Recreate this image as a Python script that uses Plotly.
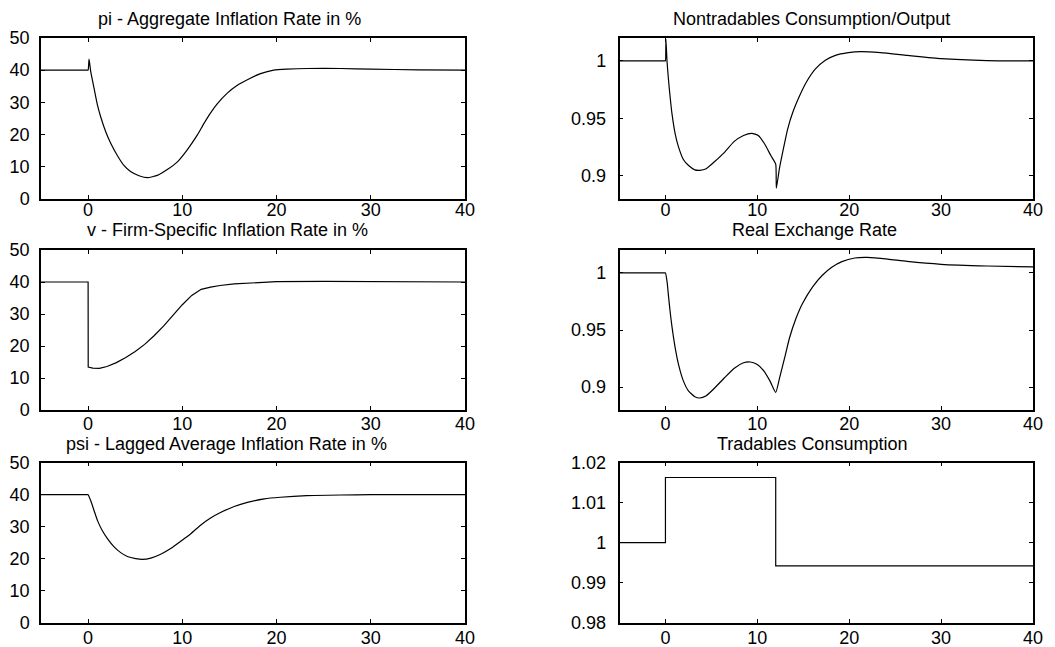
import plotly.graph_objects as go

# ---------------- data ----------------
t_pi = [-5, -0.1, 0, 0.1, 0.28, 0.64, 1.0, 1.34, 1.87, 2.4, 3.1, 3.8, 4.5, 5.4, 6.3, 7.35, 8.4, 9.5,
        10.5, 11.6, 12.3, 13.0, 13.7, 14.8, 15.8, 16.9, 18.3, 19.7, 21.1, 23.3, 26.8, 30, 35, 40]
pi = [40, 40, 40, 43.4, 39.5, 34.2, 29.0, 25.4, 20.8, 17.2, 13.4, 10.3, 8.4, 7.1, 6.5, 7.2, 9.0, 11.5,
      15.1, 19.8, 23.4, 26.7, 29.5, 32.9, 35.2, 37.0, 38.9, 40.0, 40.3, 40.5, 40.5, 40.3, 40.1, 40.0]

t_v = [-5, 0, 0.01, 0.5, 1.2, 2, 3, 4, 5, 6, 7, 8, 9, 10, 11, 12, 13, 14, 15.5, 17.5, 20, 25, 30, 40]
v = [40, 40, 13.4, 13.1, 13.0, 13.6, 14.8, 16.4, 18.3, 20.5, 23.2, 26.2, 29.6, 32.9, 35.8, 37.7,
     38.4, 38.9, 39.4, 39.8, 40.1, 40.2, 40.1, 40.0]

t_psi = [-5, -0.2, 0, 0.28, 0.64, 1.0, 1.5, 2.05, 2.76, 3.46, 4.17, 5.05, 5.76, 6.65, 7.7, 8.76, 9.8,
         10.9, 11.9, 13, 14.1, 15.5, 16.9, 18.7, 20.4, 23.2, 26.8, 30, 40]
psi = [40, 40, 40, 38.1, 35, 31.9, 28.8, 26.3, 23.7, 21.9, 20.7, 20.05, 19.8, 20.2, 21.4, 23.2, 25.4,
       27.8, 30.4, 32.7, 34.5, 36.3, 37.6, 38.7, 39.2, 39.7, 39.9, 40, 40]

t_nt = [-5, -0.05, 0, 0.05, 0.18, 0.36, 0.53, 0.71, 1.07, 1.42, 1.95, 2.49, 3.2, 3.73, 4.44, 5.33, 6.4,
        7.46, 8.5, 9.4, 10.1, 10.8, 11.5, 12.0, 12.07, 12.4, 12.8, 13.3, 13.85, 14.6, 15.3, 16.3,
        17.4, 18.5, 19.9, 21.3, 23.4, 26.3, 30, 35, 40]
nt = [1, 1, 1, 1.019, 0.9986, 0.981, 0.967, 0.954, 0.936, 0.925, 0.914, 0.909, 0.905, 0.9046, 0.906,
      0.912, 0.920, 0.9296, 0.935, 0.9368, 0.935, 0.9275, 0.917, 0.910, 0.889, 0.906, 0.922,
      0.9406, 0.955, 0.9696, 0.981, 0.9928, 1.0006, 1.0049, 1.0072, 1.0081, 1.0072, 1.0049,
      1.002, 1.0003, 1.0]

t_rer = [-5, -0.1, 0, 0.18, 0.36, 0.53, 0.71, 1.07, 1.42, 1.95, 2.5, 3.2, 3.73, 4.44, 5.33, 6.4, 7.46,
         8.5, 9.24, 9.95, 10.66, 11.37, 12.0, 12.43, 12.97, 13.5, 14.2, 14.9, 16.0, 17.05, 18.1,
         19.2, 20.6, 22.0, 24.2, 26.3, 30, 35, 40]
rer = [1, 1, 1, 0.992, 0.9775, 0.9646, 0.953, 0.934, 0.920, 0.9055, 0.8968, 0.8916, 0.8905, 0.8925,
       0.899, 0.908, 0.9164, 0.9213, 0.922, 0.920, 0.9147, 0.9055, 0.8954, 0.9084, 0.9256, 0.943,
       0.960, 0.973, 0.9876, 0.9977, 1.0049, 1.0098, 1.013, 1.0135, 1.012, 1.010, 1.0075, 1.006,
       1.0052]

t_tc = [-5, 0, 12, 40]
tc = [1.0, 1.0163, 0.9942, 0.9942]

titles = ["pi - Aggregate Inflation Rate in %", "Nontradables Consumption/Output",
          "v - Firm-Specific Inflation Rate in %", "Real Exchange Rate",
          "psi - Lagged Average Inflation Rate in %", "Tradables Consumption"]

x_ticks = [0, 10, 20, 30, 40]
left_yticks = [0, 10, 20, 30, 40, 50]
right_yticks = [0.9, 0.95, 1.0]
right_yticklabels = ["0.9", "0.95", "1"]
tc_yticks = [0.98, 0.99, 1.0, 1.01, 1.02]
tc_yticklabels = ["0.98", "0.99", "1", "1.01", "1.02"]

# ---------------- layout geometry (window pixels) ----------------
W, H = 1055, 647
OFF = 8  # the page body has a default 8px margin, so the figure starts at (8, 8) in the window
FONT = "Liberation Sans, Arial, sans-serif"
FS = 18
left_x = (41, 465)
right_x = (619.5, 1033)
rows_y = [(38, 198.5), (250, 410), (462.7, 622.7)]
row_xlabel_standoff = [-6, -3, -2]


def px_dom_x(a, b):
    return [(a - OFF) / W, (b - OFF) / W]


def px_dom_y(top, bottom):
    return [1 - (bottom - OFF) / H, 1 - (top - OFF) / H]


fig = go.Figure()
series = [(t_pi, pi), (t_nt, nt), (t_v, v), (t_rer, rer), (t_psi, psi), (t_tc, tc)]
shapes_ = ["spline", "spline", "linear", "spline", "spline", "hv"]

for i, (xs, ys) in enumerate(series):
    idx = i + 1
    xa = "x" if idx == 1 else f"x{idx}"
    ya = "y" if idx == 1 else f"y{idx}"
    line = dict(color="black", width=1.2, shape=shapes_[i])
    if shapes_[i] == "spline":
        line["smoothing"] = 0.5
    fig.add_trace(go.Scatter(x=xs, y=ys, mode="lines", xaxis=xa, yaxis=ya, line=line,
                             showlegend=False, hoverinfo="skip"))

axis_common = dict(showgrid=False, zeroline=False, showline=True, linecolor="black",
                   linewidth=1.5, mirror="allticks", ticks="inside", ticklen=4,
                   tickwidth=1, tickcolor="black", automargin=False,
                   tickfont=dict(family=FONT, size=FS, color="black"))

layout = dict(width=W, height=H, margin=dict(l=0, r=0, t=0, b=0, autoexpand=False),
              paper_bgcolor="white", plot_bgcolor="white", showlegend=False)

annotations = []
for i in range(6):
    idx = i + 1
    r, c = divmod(i, 2)
    xd = left_x if c == 0 else right_x
    yd = rows_y[r]
    xkey = "xaxis" if idx == 1 else f"xaxis{idx}"
    ykey = "yaxis" if idx == 1 else f"yaxis{idx}"
    anchor_y = "y" if idx == 1 else f"y{idx}"
    anchor_x = "x" if idx == 1 else f"x{idx}"
    layout[xkey] = dict(axis_common, domain=px_dom_x(*xd), range=[-5, 40],
                        tickvals=x_ticks, anchor=anchor_y,
                        ticklabelstandoff=row_xlabel_standoff[r])
    if c == 0:
        yt = dict(range=[0, 50], tickvals=left_yticks)
        so = 6
    elif idx == 6:
        yt = dict(range=[0.98, 1.02], tickvals=tc_yticks, ticktext=tc_yticklabels)
        so = 8
    else:
        yt = dict(range=[0.88, 1.02], tickvals=right_yticks, ticktext=right_yticklabels)
        so = 8
    layout[ykey] = dict(axis_common, domain=px_dom_y(*yd), anchor=anchor_x,
                        ticklabelstandoff=so, **yt)

title_pos = [(229, 19), (811, 19), (227, 230), (814, 230), (226, 444), (812, 443.5)]
for i, (tx, ty) in enumerate(title_pos):
    annotations.append(dict(text=titles[i], x=(tx - OFF) / W, y=1 - (ty - OFF) / H,
                            xref="paper", yref="paper",
                            xanchor="center", yanchor="middle", showarrow=False,
                            font=dict(family=FONT, size=FS, color="black")))
layout["annotations"] = annotations
fig.update_layout(**layout)

fig.write_html("out.html")
